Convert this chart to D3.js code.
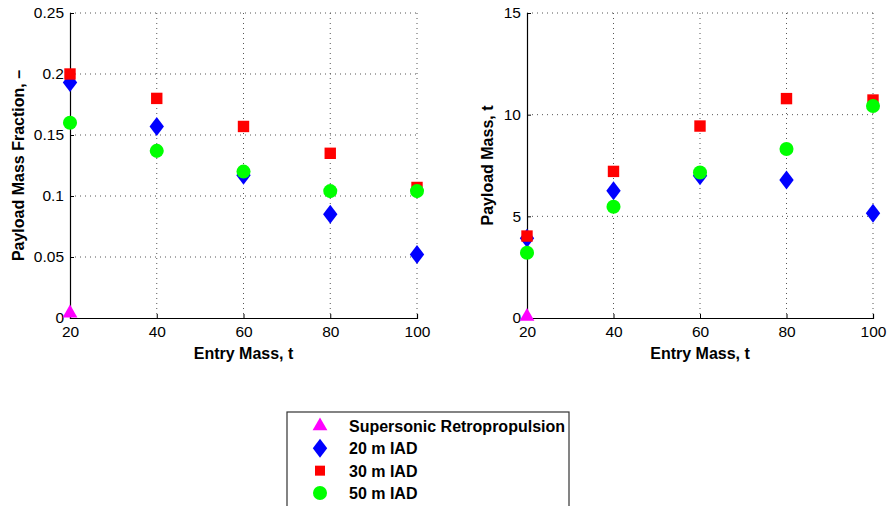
<!DOCTYPE html>
<html><head><meta charset="utf-8">
<script src="https://cdn.jsdelivr.net/npm/d3@7"></script>
<style>body{margin:0;background:#fff;}svg{display:block;font-family:"Liberation Sans",Arial,sans-serif;}</style>
</head><body>
<svg id="c" width="889" height="506"></svg>
<script>
const entryMass = [20, 40, 60, 80, 100];
const seriesNames = ["Supersonic Retropropulsion", "20 m IAD", "30 m IAD", "50 m IAD"];
// Payload mass fraction
const fracSRP = [0.004];
const frac20 = [0.193, 0.157, 0.117, 0.085, 0.052];
const frac30 = [0.200, 0.180, 0.157, 0.135, 0.107];
const frac50 = [0.160, 0.137, 0.120, 0.104, 0.104];
// Payload mass, t
const massSRP = [0.07];
const mass20 = [3.92, 6.26, 7.0, 6.79, 5.15];
const mass30 = [4.03, 7.21, 9.44, 10.79, 10.72];
const mass50 = [3.21, 5.47, 7.16, 8.31, 10.43];
const xTicks = [20, 40, 60, 80, 100];
const fracTicks = [0, 0.05, 0.1, 0.15, 0.2, 0.25];
const massTicks = [0, 5, 10, 15];

const svg = d3.select("#c");
const diamond = {draw(ctx, size) { const w = 7.2, h = 9.5; ctx.moveTo(0, -h); ctx.lineTo(w, 0); ctx.lineTo(0, h); ctx.lineTo(-w, 0); ctx.closePath(); }};
const styles = [
  {type: d3.symbolTriangle, color: "#ff00ff", size: 95},
  {type: diamond, color: "#0000ff", size: 1},
  {type: d3.symbolSquare, color: "#ff0000", size: 130},
  {type: d3.symbolCircle, color: "#00ff00", size: 155}
];
const FONT = "'Liberation Sans',Arial,sans-serif";

function drawPanel(left, right, top, bottom, yDomain, yTicks, yFmt, data, yLabel, yLabelX) {
  const x = d3.scaleLinear().domain([20, 100]).range([left, right]);
  const y = d3.scaleLinear().domain(yDomain).range([bottom, top]);
  const g = svg.append("g");
  // grid
  g.append("g").selectAll("line").data(xTicks.slice(1)).join("line")
    .attr("x1", d => x(d)).attr("x2", d => x(d)).attr("y1", top).attr("y2", bottom)
    .attr("stroke", "#555").attr("stroke-width", 1).attr("stroke-dasharray", "1,4");
  g.append("g").selectAll("line").data(yTicks.slice(1)).join("line")
    .attr("x1", left).attr("x2", right).attr("y1", d => y(d)).attr("y2", d => y(d))
    .attr("stroke", "#555").attr("stroke-width", 1).attr("stroke-dasharray", "1,4");
  // axes
  const xa = g.append("g").attr("transform", `translate(0,${bottom})`)
    .call(d3.axisBottom(x).tickValues(xTicks).tickSize(-4).tickPadding(8).tickFormat(d3.format("d")));
  const ya = g.append("g").attr("transform", `translate(${left},0)`)
    .call(d3.axisLeft(y).tickValues(yTicks).tickSize(-4).tickPadding(6).tickFormat(yFmt));
  [xa, ya].forEach(a => {
    a.select(".domain").attr("stroke", "#000").attr("stroke-width", 1.2);
    a.selectAll(".tick line").attr("stroke", "#000");
    a.selectAll("text").attr("font-size", 15.5).attr("fill", "#000").attr("font-family", FONT);
  });
  // x label
  g.append("text").attr("x", (left + right) / 2).attr("y", 359).attr("text-anchor", "middle")
    .attr("font-size", 16).attr("font-weight", "bold").text("Entry Mass, t");
  g.append("text").attr("transform", `translate(${yLabelX},${(top + bottom) / 2}) rotate(-90)`)
    .attr("text-anchor", "middle").attr("font-size", 16).attr("font-weight", "bold").text(yLabel);
  // markers
  data.forEach((vals, i) => {
    const s = styles[i];
    g.append("g").selectAll("path").data(vals).join("path")
      .attr("transform", (d, j) => `translate(${x(entryMass[j])},${y(d)})`)
      .attr("d", d3.symbol().type(s.type).size(s.size))
      .attr("fill", s.color);
  });
}

drawPanel(70, 417, 13, 318, [0, 0.25], fracTicks,
  d => d === 0 ? "0" : d3.format("")(d),
  [fracSRP, frac20, frac30, frac50], "Payload Mass Fraction, \u2013", 24);
drawPanel(527, 873, 13, 318, [0, 15], massTicks, d3.format("d"),
  [massSRP, mass20, mass30, mass50], "Payload Mass, t", 493);

// legend
const lg = svg.append("g");
lg.append("rect").attr("x", 287).attr("y", 412).attr("width", 282).attr("height", 110)
  .attr("fill", "#fff").attr("stroke", "#333").attr("stroke-width", 1.2);
const rowY = d3.scalePoint().domain(seriesNames).range([426, 493]);
seriesNames.forEach((n, i) => {
  const s = styles[i];
  lg.append("path").attr("transform", `translate(320,${rowY(n)})`)
    .attr("d", d3.symbol().type(s.type).size(i === 2 ? 100 : s.size)).attr("fill", s.color);
  lg.append("text").attr("x", 349).attr("y", rowY(n) + 6).attr("font-size", 16)
    .attr("font-weight", "bold").text(n);
});
</script>
</body></html>
